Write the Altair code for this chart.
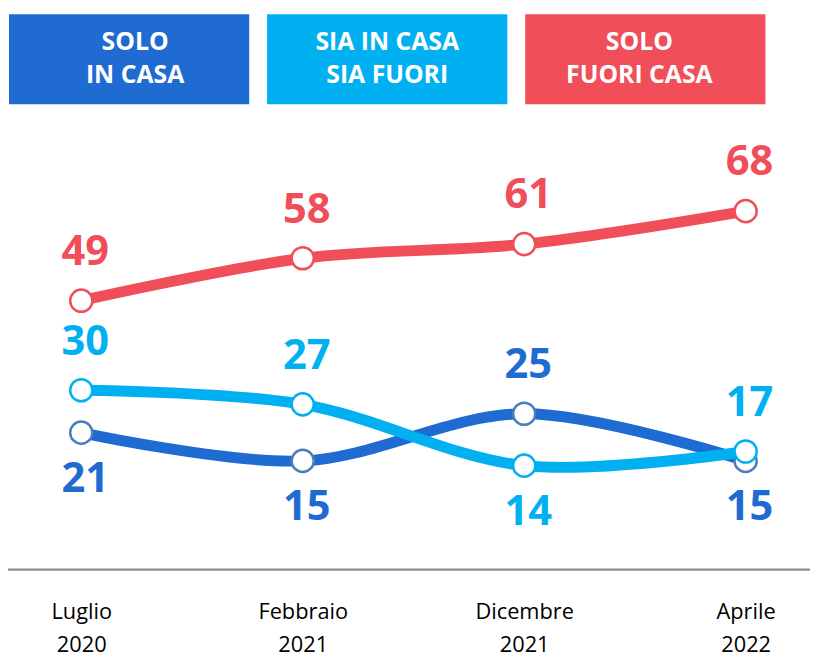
import json
import altair as alt
import pandas as pd

# ---- data ----
periods = ["Luglio\n2020", "Febbraio\n2021", "Dicembre\n2021", "Aprile\n2022"]
series = ["SOLO\nIN CASA", "SIA IN CASA\nSIA FUORI", "SOLO\nFUORI CASA"]
solo_in_casa = [21, 15, 25, 15]
sia_in_casa_sia_fuori = [30, 27, 14, 17]
solo_fuori_casa = [49, 58, 61, 68]
line_colors = ["#1F6BD1", "#00B0F0", "#F04E59"]
marker_strokes = ["#4A7EBB", "#00B0F0", "#F04E59"]

values = [solo_in_casa, sia_in_casa_sia_fuori, solo_fuori_casa]

rows = []
for s_idx, (name, vals) in enumerate(zip(series, values)):
    for i, v in enumerate(vals):
        rows.append({"i": i, "series": name, "value": v, "s": s_idx,
                     "color": line_colors[s_idx], "mstroke": marker_strokes[s_idx]})
df = pd.DataFrame(rows)

# label placement: red always above; of the two blue series, the higher above, lower below
def place(r):
    if r["s"] == 2:
        return "above"
    other = values[1 - r["s"]][r["i"]]
    return "above" if r["value"] >= other else "below"
df["place"] = df.apply(place, axis=1)

legend_df = pd.DataFrame({"series": series, "color": line_colors})

FONT = "Open Sans"
xscale = alt.Scale(domain=[0, 3], range=[74, 745])
yscale = alt.Scale(domain=[0, 100], range=[525.6, 49.6])

label_expr = "split(" + json.dumps(periods) + "[datum.value], '\\n')"

x_axis = alt.Axis(values=[0, 1, 2, 3], labelExpr=label_expr, title=None,
                  ticks=False, grid=False, domain=False, labelFlush=False,
                  labelFont=FONT, labelFontSize=22,
                  labelColor="#000000", labelLineHeight=34,
                  labelPadding=32, labelAngle=0)

# baseline rule spanning the full width
base_rule = alt.Chart(pd.DataFrame({"a": [0]})).mark_rule(
    color="#8C8C8C", strokeWidth=2.5
).encode(x=alt.value(-8), x2=alt.value(810), y=alt.value(564))

layers = [base_rule]
for s_idx in range(3):
    sdf = df[df["s"] == s_idx]
    if s_idx == 0:
        x_enc = alt.X("i:Q", scale=xscale, axis=x_axis)
    else:
        x_enc = alt.X("i:Q", scale=xscale, axis=None)
    line = alt.Chart(sdf).mark_line(strokeWidth=11, interpolate="cardinal").encode(
        x=x_enc,
        y=alt.Y("value:Q", scale=yscale, axis=None),
        color=alt.Color("color:N", scale=None),
    )
    pts = alt.Chart(sdf).mark_point(filled=True, fill="white", size=500, strokeWidth=2.5,
                                    opacity=1).encode(
        x=alt.X("i:Q", scale=xscale, axis=None),
        y=alt.Y("value:Q", scale=yscale, axis=None),
        stroke=alt.Stroke("mstroke:N", scale=None),
    )
    layers += [line, pts]

for place, dy in [("above", -49), ("below", 47)]:
    t = alt.Chart(df[df["place"] == place]).mark_text(
        font=FONT, fontSize=42, fontWeight="bold", baseline="middle", dy=dy, dx=4
    ).encode(
        x=alt.X("i:Q", scale=xscale, axis=None),
        y=alt.Y("value:Q", scale=yscale, axis=None),
        text="value:Q",
        color=alt.Color("color:N", scale=None),
    )
    layers.append(t)

band = alt.Scale(domain=series, range=[1, 765], paddingInner=0.0692, paddingOuter=0)
legend_rect = alt.Chart(legend_df).mark_rect().encode(
    x=alt.X("series:N", scale=band, axis=None, sort=series),
    y=alt.value(3), y2=alt.value(94),
    color=alt.Color("color:N", scale=None),
)
legend_text = alt.Chart(legend_df).mark_text(
    font=FONT, fontSize=25, fontWeight="bold", color="white", lineBreak="\n",
    lineHeight=34, baseline="middle", align="center"
).encode(
    x=alt.X("series:N", scale=band, axis=None, sort=series),
    y=alt.value(31),
    text="series:N",
)
layers += [legend_rect, legend_text]

chart = alt.layer(*layers).resolve_scale(x="independent").properties(
    width=810, height=564,
    background="white",
    autosize=alt.AutoSizeParams(type="none"),
    padding={"left": 0, "top": 0, "right": 0, "bottom": 85},
).configure_view(stroke=None)

chart.save("out.html", embed_options={"renderer": "svg", "actions": False})
